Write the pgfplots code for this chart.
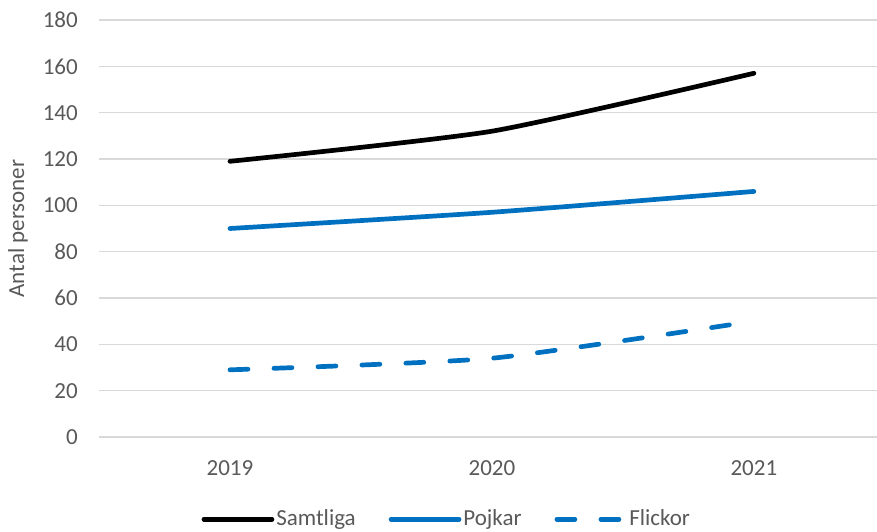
\documentclass[border=0pt]{standalone}
\usepackage{pgfplots}
\pgfplotsset{compat=1.18}
\usepackage{fontspec}
\setmainfont{Carlito}
\definecolor{tickgray}{HTML}{595959}
\definecolor{gridgray}{HTML}{D9D9D9}
\definecolor{xlblue}{HTML}{0070C0}
\begin{document}
\fontsize{23bp}{27bp}\selectfont
\begin{tikzpicture}
\begin{axis}[
 scale only axis, width=778bp, height=417bp,
 xmin=-0.5, xmax=2.47, ymin=0, ymax=180,
 xtick={0,1,2}, xticklabels={2019,2020,2021},
 ytick={0,20,...,180},
 ymajorgrids, grid style={gridgray, line width=1.4bp},
 axis line style={draw=none},
 major tick length=0pt,
 tick label style={text=tickgray, font=\fontsize{23bp}{27bp}\selectfont},
 /pgf/number format/assume math mode=true,
 yticklabel style={anchor=east, inner sep=0pt, xshift=-21bp},
 xticklabel style={anchor=center, inner sep=0pt, yshift=-31bp},
 ylabel={Antal personer},
 ylabel style={at={(axis description cs:-0.104,0.5)}, anchor=center, text=tickgray, font=\fontsize{23bp}{27bp}\selectfont},
 legend columns=3,
 legend style={draw=none, fill=none, at={(axis description cs:0.447,-0.197)}, anchor=center,
   text=tickgray, font=\fontsize{23bp}{27bp}\selectfont,
   nodes={inner xsep=2bp, inner ysep=0pt},
   /tikz/every even column/.append style={column sep=31bp}},
 legend image code/.code={\draw[#1] (0bp,0bp) -- (68bp,0bp);},
]
\addplot[black, line width=4.7bp, line cap=round, smooth, tension=0.35] coordinates {(0,119) (1,132) (2,157)};
\addlegendentry{Samtliga}
\addplot[xlblue, line width=4.7bp, line cap=round, smooth, tension=0.35] coordinates {(0,90) (1,97) (2,106)};
\addlegendentry{Pojkar}
\addplot[xlblue, line width=4.7bp, line cap=round, dash pattern=on 18bp off 26bp, smooth, tension=0.35] coordinates {(0,29) (1,34) (2,50)};
\addlegendentry{Flickor}
\end{axis}
\pgfresetboundingbox
\path[use as bounding box] (-99bp,-95bp) rectangle (778bp,437bp);
\end{tikzpicture}
\end{document}
